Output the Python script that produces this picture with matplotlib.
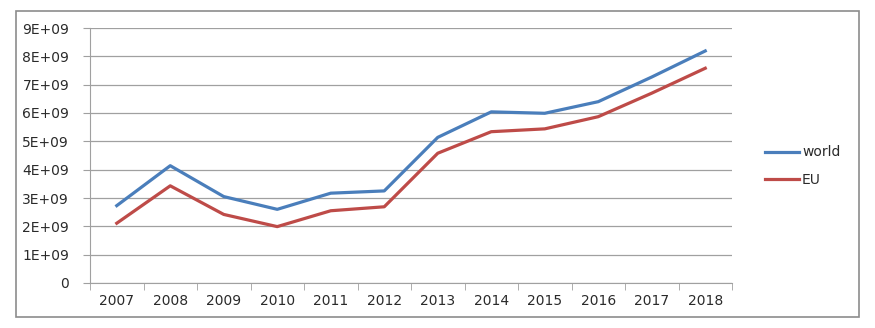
import numpy as np
import matplotlib.pyplot as plt
from matplotlib.patches import Rectangle

years = ['2007', '2008', '2009', '2010', '2011', '2012',
         '2013', '2014', '2015', '2016', '2017', '2018']
world = [2.73e9, 4.14e9, 3.05e9, 2.60e9, 3.17e9, 3.25e9,
         5.14e9, 6.04e9, 5.99e9, 6.40e9, 7.27e9, 8.19e9]
eu = [2.11e9, 3.43e9, 2.42e9, 1.99e9, 2.55e9, 2.69e9,
      4.58e9, 5.34e9, 5.44e9, 5.87e9, 6.70e9, 7.58e9]
ytick_labels = ['0', '1E+09', '2E+09', '3E+09', '4E+09', '5E+09',
                '6E+09', '7E+09', '8E+09', '9E+09']

W, H = 875, 328
fig = plt.figure(figsize=(W / 100, H / 100), dpi=100)
fig.patch.set_facecolor('white')

# outer chart border
fig.patches.append(Rectangle((16 / W, 1 - 317 / H), (859 - 16) / W, (317 - 11) / H,
                             transform=fig.transFigure, fill=False,
                             edgecolor='#8c8c8c', linewidth=1.2))

ax = fig.add_axes([90 / W, 1 - 283 / H, (732 - 90) / W, (283 - 28) / H])
x = np.arange(len(years))
ax.plot(x, world, color='#4A7EBB', linewidth=2.3, label='world')
ax.plot(x, eu, color='#BE4B48', linewidth=2.3, label='EU')

ax.set_xlim(-0.5, len(years) - 0.5)
ax.set_ylim(0, 9e9)
ax.set_yticks(np.arange(0, 10) * 1e9)
ax.set_yticklabels(ytick_labels)
ax.set_xticks(x)
ax.set_xticklabels(years)
ax.set_xticks(np.arange(-0.5, len(years)), minor=True)

ax.grid(axis='y', color='#a0a0a0', linewidth=0.9)
ax.set_axisbelow(True)
for s in ['top', 'right']:
    ax.spines[s].set_visible(False)
ax.spines['left'].set_color('#a0a0a0')
ax.spines['bottom'].set_color('#a0a0a0')

ax.tick_params(axis='y', which='major', length=5, color='#a0a0a0', direction='out',
               labelsize=10, labelcolor='#2a2a2a', pad=10)
ax.tick_params(axis='x', which='major', length=0, labelsize=10,
               labelcolor='#2a2a2a', pad=8)
ax.tick_params(axis='x', which='minor', length=5, color='#a0a0a0', direction='out')

ax.legend(loc='center left', bbox_to_anchor=(752 / W, 1 - 166 / H), bbox_transform=fig.transFigure,
          frameon=False, fontsize=10, handlelength=2.5, handletextpad=0.2,
          labelspacing=0.95, labelcolor='#2a2a2a')

fig.savefig('out.png', dpi=100, facecolor='white')
